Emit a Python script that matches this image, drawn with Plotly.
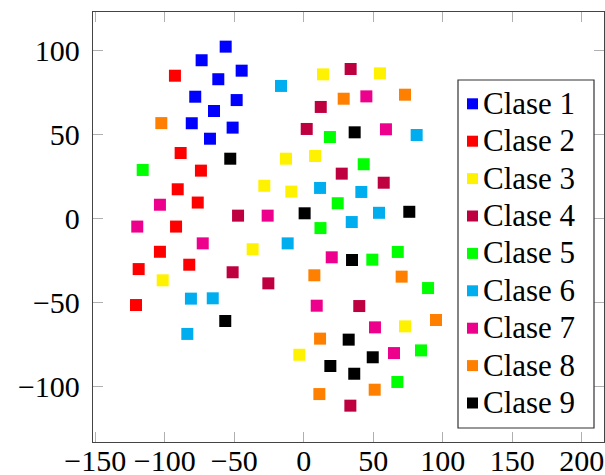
import plotly.graph_objects as go

# ---- data ----
class_names = ["Clase 1", "Clase 2", "Clase 3", "Clase 4", "Clase 5",
               "Clase 6", "Clase 7", "Clase 8", "Clase 9"]
class_colors = ["#0000FF", "#FF0000", "#FFF200", "#BF0040", "#00FF00",
                "#00AEEF", "#EC008C", "#FF8000", "#000000"]

c1_x = [-56.2, -73.5, -44.7, -61.5, -78.1, -48.3, -64.6, -80.6, -51.2, -67.5]
c1_y = [102.0, 93.9, 87.7, 82.6, 72.2, 70.2, 63.7, 56.4, 53.8, 47.2]

c2_x = [-92.7, -88.6, -74.0, -90.7, -76.3, -91.9, -103.5, -118.8, -82.4, -120.7]
c2_y = [84.7, 38.7, 28.2, 17.1, 9.2, -5.1, -20.1, -30.4, -27.8, -51.8]

c3_x = [13.8, 54.8, -12.8, 8.1, -28.4, -9.0, -36.8, -101.5, 72.8, -3.2]
c3_y = [85.5, 86.1, 35.3, 36.9, 19.2, 15.7, -18.6, -37.1, -64.5, -81.4]

c4_x = [33.7, 12.2, 2.1, 27.3, 57.5, -47.3, -51.2, -25.5, 39.9, 33.5]
c4_y = [88.7, 66.1, 53.0, 26.4, 21.0, 1.4, -32.3, -38.9, -52.4, -111.7]

c5_x = [-115.9, 18.8, 43.1, 24.4, 12.0, 67.6, 49.3, 89.4, 84.3, 67.3]
c5_y = [28.6, 48.2, 32.0, 8.8, -6.0, -20.2, -24.8, -41.7, -78.8, -97.6]

c6_x = [-16.4, 81.2, 11.7, 41.4, 54.1, 34.5, -11.6, -81.2, -65.5, -83.8]
c6_y = [78.6, 49.4, 17.9, 15.5, 3.1, -2.4, -15.1, -48.0, -47.8, -69.0]

c7_x = [45.0, 59.1, -103.5, -26.0, -119.8, -72.7, 20.1, 9.3, 51.2, 64.9]
c7_y = [72.4, 52.8, 7.9, 1.4, -5.1, -15.1, -23.4, -52.2, -65.1, -80.4]

c8_x = [-102.5, 28.7, 72.8, 7.6, 70.4, 95.1, 11.7, 11.2, 51.0]
c8_y = [56.5, 71.0, 73.4, -34.1, -34.9, -60.7, -71.8, -104.8, -102.2]

c9_x = [-52.9, 36.6, 0.6, 75.9, 34.7, -56.5, 32.3, 49.6, 19.1, 36.3]
c9_y = [35.3, 51.0, 2.8, 3.7, -25.0, -61.3, -72.4, -82.9, -88.1, -92.7]

xs = [c1_x, c2_x, c3_x, c4_x, c5_x, c6_x, c7_x, c8_x, c9_x]
ys = [c1_y, c2_y, c3_y, c4_y, c5_y, c6_y, c7_y, c8_y, c9_y]

x_ticks = [-150, -100, -50, 0, 50, 100, 150, 200]
y_ticks = [-100, -50, 0, 50, 100]

# ---- layout geometry ----
W, H = 605, 475
ML, MR, MT, MB = 93, 1, 12, 33
PW, PH = W - ML - MR, H - MT - MB
FONT = "Liberation Serif, Tinos, 'Times New Roman', 'DejaVu Serif', serif"


def px2paper_x(px):
    return (px - ML) / PW


def px2paper_y(py):
    return (H - MB - py) / PH


fig = go.Figure()
for name, color, x, y in zip(class_names, class_colors, xs, ys):
    fig.add_trace(go.Scatter(
        x=x, y=y, mode="markers", name=name, showlegend=False,
        marker=dict(symbol="square", size=12, color=color, line=dict(width=0)),
    ))

# ---- manual legend (pgfplots style box) ----
shapes = []
annotations = []
box_l, box_r, box_t, box_b = 458, 594, 80, 428
shapes.append(dict(type="rect", xref="paper", yref="paper", layer="above",
                   x0=px2paper_x(box_l), x1=px2paper_x(box_r),
                   y0=px2paper_y(box_b), y1=px2paper_y(box_t),
                   fillcolor="white", line=dict(color="#333333", width=1.2)))
row0, row_step = 103.8, 37.4
for i, (name, color) in enumerate(zip(class_names, class_colors)):
    cy = row0 + i * row_step
    shapes.append(dict(type="rect", xref="paper", yref="paper", layer="above",
                       x0=px2paper_x(467), x1=px2paper_x(478),
                       y0=px2paper_y(cy + 5.5), y1=px2paper_y(cy - 5.5),
                       fillcolor=color, line=dict(width=0)))
    annotations.append(dict(xref="paper", yref="paper", x=px2paper_x(481),
                            y=px2paper_y(cy - 0.5), xanchor="left", yanchor="middle",
                            text=name, showarrow=False,
                            font=dict(family=FONT, size=31, color="black")))

axis_common = dict(showgrid=False, zeroline=False, showline=True,
                   linecolor="#444444", linewidth=1.3, mirror="ticks",
                   ticks="inside", ticklen=10, tickwidth=1.2,
                   tickcolor="#b0b0b0", automargin=False,
                   tickfont=dict(family=FONT, size=30, color="black"))

fig.update_layout(
    width=W, height=H,
    margin=dict(l=ML, r=MR, t=MT, b=MB, pad=0, autoexpand=False),
    paper_bgcolor="white", plot_bgcolor="white",
    font=dict(family=FONT, size=30, color="black"),
    xaxis=dict(range=[-151.65, 215.97], tickvals=x_ticks,
               ticklabelstandoff=-8, **axis_common),
    yaxis=dict(range=[-133.33, 122.62], tickvals=y_ticks,
               ticklabelstandoff=6, **axis_common),
    shapes=shapes, annotations=annotations, showlegend=False,
)

fig.write_html(
    "out.html",
    config={"displayModeBar": False},
    post_script="document.body.style.margin='0';document.body.style.overflow='hidden';",
)
